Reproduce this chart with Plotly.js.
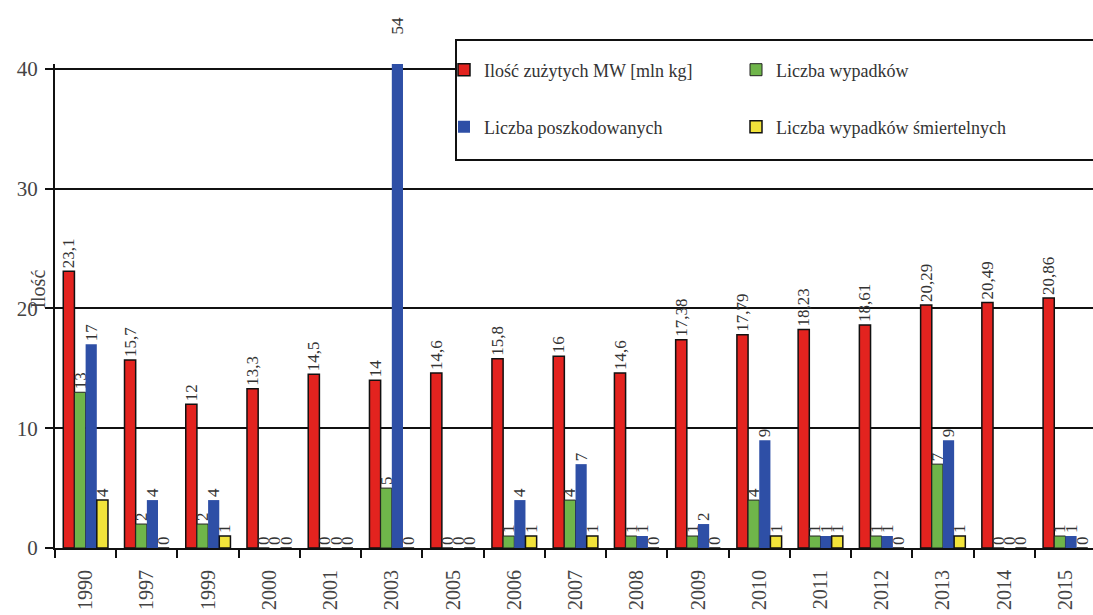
<!DOCTYPE html>
<html>
<head>
<meta charset="utf-8">
<script src="https://cdn.plot.ly/plotly-3.0.1.min.js"></script>
<style>
  html, body { margin: 0; padding: 0; background: #fff; overflow: hidden; }
  #chart { width: 1093px; height: 615px; }
</style>
</head>
<body>
<div id="chart"></div>
<script>
// Years on the category axis
const years = ['1990','1997','1999','2000','2001','2003','2005','2006','2007',
               '2008','2009','2010','2011','2012','2013','2014','2015'];

// Quantity of explosives used [mln kg]
const explosivesUsed = [23.1, 15.7, 12, 13.3, 14.5, 14, 14.6, 15.8, 16, 14.6,
                        17.38, 17.79, 18.23, 18.61, 20.29, 20.49, 20.86];
// Number of accidents
const accidents = [13, 2, 2, 0, 0, 5, 0, 1, 4, 1, 1, 4, 1, 1, 7, 0, 1];
// Number of injured
const injured = [17, 4, 4, 0, 0, 54, 0, 4, 7, 1, 2, 9, 1, 1, 9, 0, 1];
// Number of fatal accidents
const fatalAccidents = [4, 0, 1, 0, 0, 0, 0, 1, 1, 0, 0, 1, 1, 0, 1, 0, 0];

const seriesNames = [
  'Ilość zużytych MW [mln kg]',
  'Liczba wypadków',
  'Liczba poszkodowanych',
  'Liczba wypadków śmiertelnych'
];

const yTickVals = [0, 10, 20, 30, 40];
const Y_MAX = 40.4;

const SERIF = '"Liberation Serif", "DejaVu Serif", "Times New Roman", serif';
const BARGAP = 0.27;

// Plot area geometry (pixels)
const W = 1093, H = 615;
const M = { l: 55, r: 0, t: 64, b: 67 };
const plotW = W - M.l - M.r;
const plotH = H - M.t - M.b;
// Category axis range: the last category runs slightly past the right edge
const X_RANGE = [-0.5, 16.45];

const fmt = v => String(v).replace('.', ',');

const styles = [
  { color: '#e3231f', line: { color: '#111', width: 1.5 } },
  { color: '#6fb54a', line: { color: '#222', width: 1 } },
  { color: '#2e4fa6', line: { color: '#2e4fa6', width: 0 } },
  { color: '#f2e33a', line: { color: '#111', width: 1.5 } }
];
const seriesData = [explosivesUsed, accidents, injured, fatalAccidents];
const legendIds = ['legend', 'legend', 'legend2', 'legend2'];

const LABEL_FONT = { family: SERIF, size: 17, color: '#333' };

const traces = seriesData.map((vals, i) => ({
  type: 'bar',
  name: seriesNames[i],
  x: years,
  y: vals,
  legend: legendIds[i],
  marker: { color: styles[i].color, line: styles[i].line },
  // values past the top of the axis get their label drawn at the axis top instead
  text: vals.map(v => v > Y_MAX ? '' : fmt(v)),
  textposition: 'outside',
  textangle: -90,
  constraintext: 'none',
  textfont: LABEL_FONT,
  hoverinfo: 'x+y+name'
}));

// Labels for bars clipped at the top of the axis, placed over the bar's slot
const xSpan = X_RANGE[1] - X_RANGE[0];
const slotFrac = 1 / xSpan;
const groupFrac = slotFrac * (1 - BARGAP);
const barFrac = groupFrac / seriesData.length;
const annotations = [];
seriesData.forEach((vals, i) => {
  vals.forEach((v, j) => {
    if (v > Y_MAX) {
      annotations.push({
        x: (j - X_RANGE[0]) / xSpan - groupFrac / 2 + barFrac * (i + 0.5),
        y: 1, xref: 'paper', yref: 'paper',
        yshift: 28,
        text: fmt(v), showarrow: false, textangle: -90,
        xanchor: 'center', yanchor: 'bottom',
        font: LABEL_FONT
      });
    }
  });
});

// Vertical axis caption
annotations.push({
  text: 'Ilość', xref: 'paper', yref: 'y', x: -0.016, y: 21.6,
  showarrow: false, textangle: -90, xanchor: 'center', yanchor: 'middle',
  font: { family: SERIF, size: 20, color: '#444' }
});

const pxToPaperX = px => (px - M.l) / plotW;
const pxToPaperY = py => (H - M.b - py) / plotH;

const legendCommon = {
  orientation: 'h',
  entrywidth: 247,
  entrywidthmode: 'pixels',
  bgcolor: 'rgba(0,0,0,0)',
  borderwidth: 0,
  xanchor: 'left',
  yanchor: 'middle',
  font: { family: SERIF, size: 18, color: '#333' },
  itemclick: false,
  itemdoubleclick: false
};

const layout = {
  width: W,
  height: H,
  margin: M,
  paper_bgcolor: '#fff',
  plot_bgcolor: '#fff',
  barmode: 'group',
  bargap: BARGAP,
  bargroupgap: 0,
  font: { family: SERIF, color: '#444' },
  xaxis: {
    type: 'category',
    range: X_RANGE,
    tickangle: -90,
    tickson: 'boundaries',
    ticks: 'outside',
    ticklen: 8,
    tickwidth: 2,
    tickcolor: '#111',
    ticklabelstandoff: 12,
    showline: true,
    linecolor: '#111',
    linewidth: 2,
    showgrid: false,
    tickfont: { family: SERIF, size: 20, color: '#444' },
    fixedrange: true
  },
  yaxis: {
    range: [0, Y_MAX],
    tickvals: yTickVals,
    ticks: 'outside',
    ticklen: 8,
    tickwidth: 2,
    tickcolor: '#111',
    ticklabelstandoff: 3,
    showline: true,
    linecolor: '#111',
    linewidth: 2,
    showgrid: true,
    gridcolor: '#111',
    gridwidth: 2,
    zeroline: false,
    tickfont: { family: SERIF, size: 21, color: '#444' },
    fixedrange: true
  },
  legend: Object.assign({}, legendCommon, { x: pxToPaperX(444), y: pxToPaperY(70) }),
  legend2: Object.assign({}, legendCommon, { x: pxToPaperX(444), y: pxToPaperY(127) }),
  shapes: [{
    type: 'rect', xref: 'paper', yref: 'paper', layer: 'above',
    x0: pxToPaperX(456), x1: pxToPaperX(1110),
    y0: pxToPaperY(160), y1: pxToPaperY(40),
    line: { color: '#111', width: 2 },
    fillcolor: '#fff'
  }],
  annotations: annotations,
  showlegend: true
};

Plotly.newPlot('chart', traces, layout, { displayModeBar: false, staticPlot: true });
</script>
</body>
</html>
